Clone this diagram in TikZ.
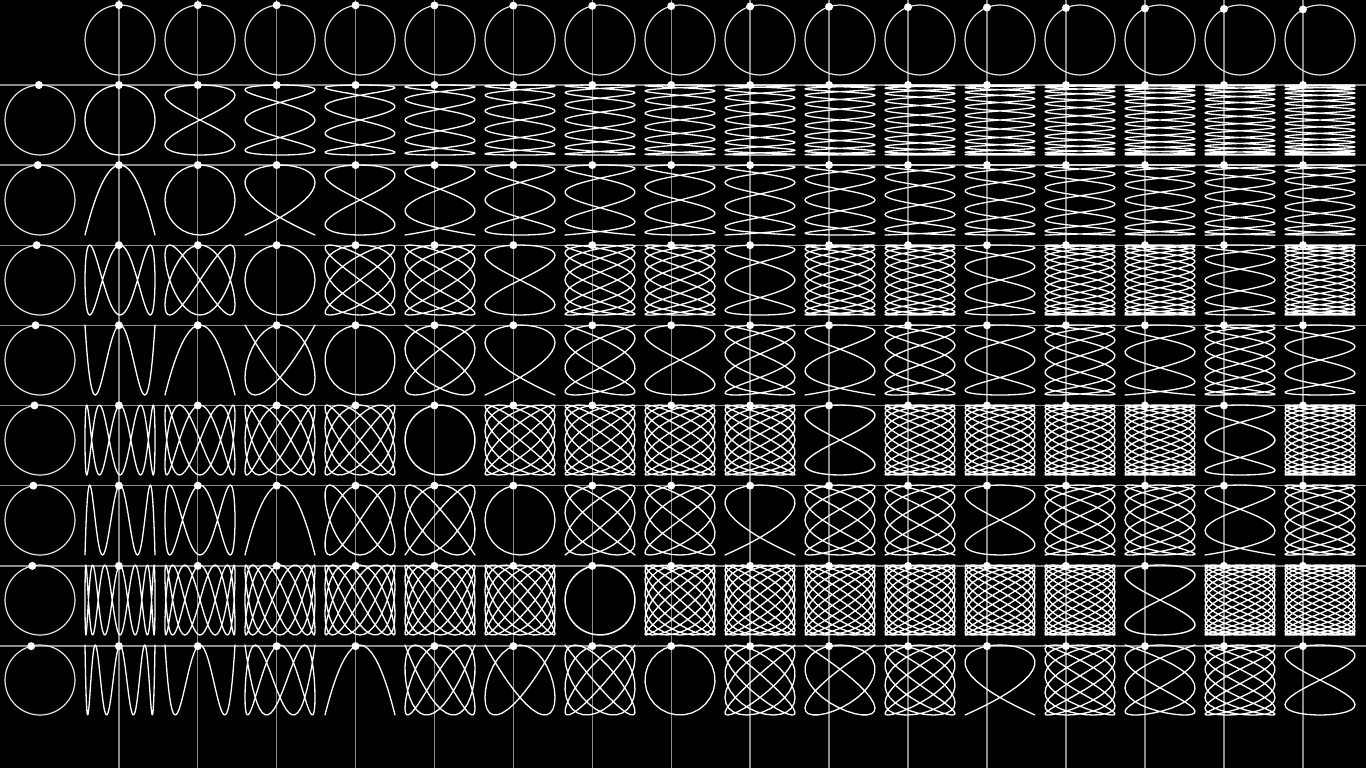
\documentclass[tikz,border=0pt]{standalone}
\usepackage{tikz}
\tikzset{
  guide/.style = {draw=white!55!black, line width=0.65pt},
  ring/.style  = {draw=white!90!black, line width=0.6pt},
  curve/.style = {draw=white, line width=0.65pt, line join=round},
  dot/.style   = {fill=white},
}
\newcommand{\tnow}{-1.82}
\newcommand{\rad}{35}

\begin{document}
\begin{tikzpicture}[x=0.5pt,y=-0.5pt]
  \fill[black] (0,0) rectangle (1366,768);
  \useasboundingbox (0,0) rectangle (1366,768);
  % guide lines through the header dots
  \foreach \j in {1,...,16}
    \draw[guide] ({40+80*\j+\rad*sin(\j*\tnow)},0) -- ++(0,768);
  \foreach \i in {1,...,8}
    \draw[guide] (0,{40+80*\i-\rad*cos(\i*\tnow)}) -- ++(1366,0);
  % header circles
  \foreach \j in {1,...,16} {
    \draw[ring] (40+80*\j,40) circle[radius=\rad];
    \fill[dot] ({40+80*\j+\rad*sin(\j*\tnow)},{40-\rad*cos(\j*\tnow)}) circle[radius=4];
  }
  \foreach \i in {1,...,8} {
    \draw[ring] (40,40+80*\i) circle[radius=\rad];
    \fill[dot] ({40+\rad*sin(\i*\tnow)},{40+80*\i-\rad*cos(\i*\tnow)}) circle[radius=4];
  }
  % lissajous table
  \foreach \i in {1,...,8}
    \foreach \j in {1,...,16} {
      \pgfmathtruncatemacro\nsmp{24*max(\i,\j)+25}
      \draw[curve] plot[domain=0:360, samples=\nsmp, variable=\phase]
        ({40+80*\j+\rad*sin(\j*\phase)},{40+80*\i-\rad*cos(\i*\phase)});
      \fill[dot] ({40+80*\j+\rad*sin(\j*\tnow)},{40+80*\i-\rad*cos(\i*\tnow)}) circle[radius=4];
    }
\end{tikzpicture}
\end{document}
